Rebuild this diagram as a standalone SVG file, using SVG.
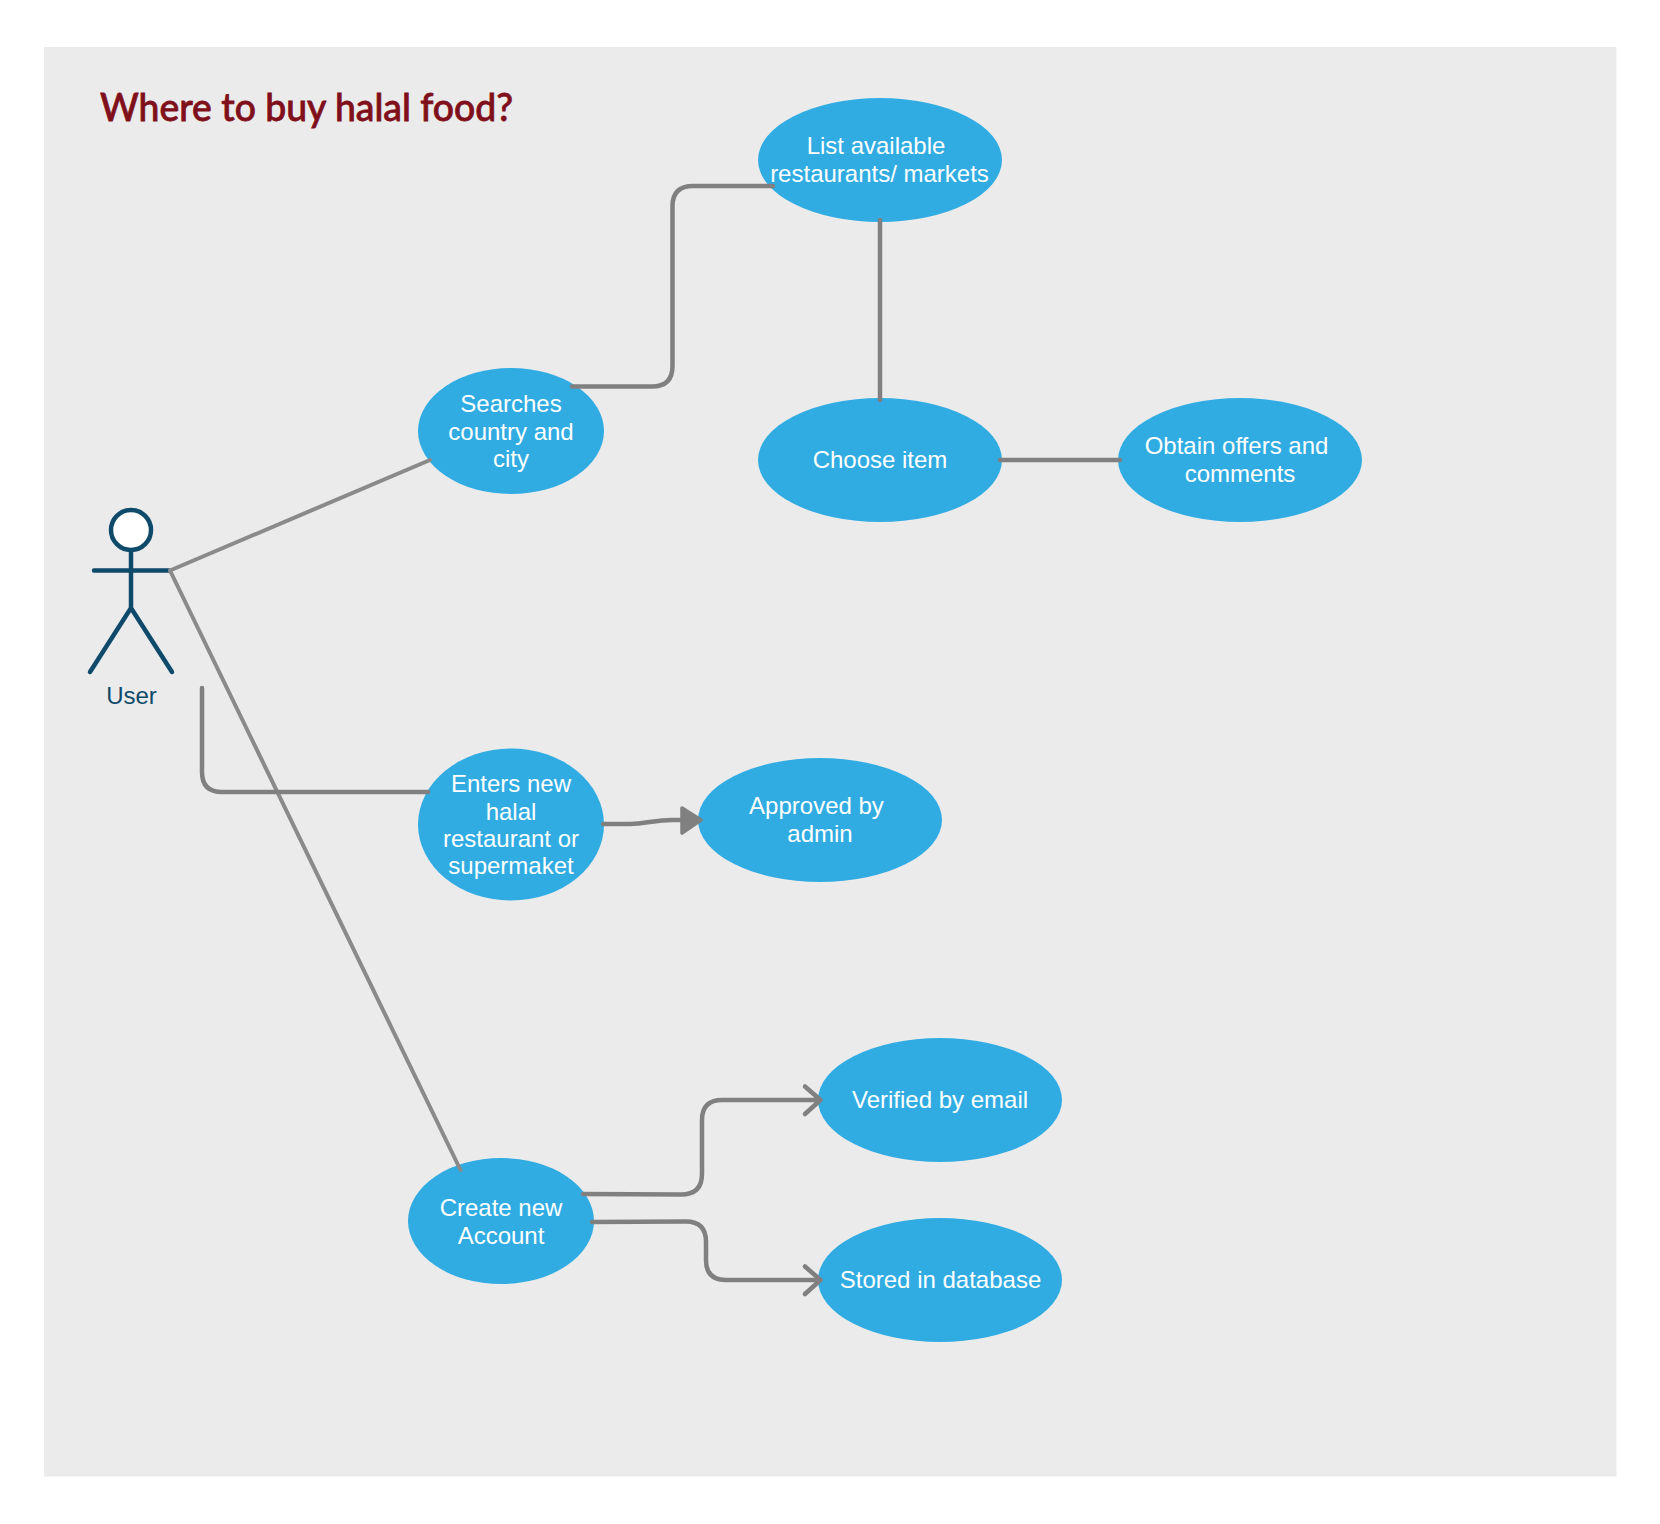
<svg xmlns="http://www.w3.org/2000/svg" width="1660" height="1524" viewBox="0 0 1660 1524">
<style>
.uc{fill:#30ace3}
.t{font-family:"Liberation Sans",Arial,sans-serif;font-size:24px;fill:#fff;text-anchor:middle}
.c{fill:none;stroke:#808080;stroke-width:4.500;stroke-linecap:round;stroke-linejoin:round}
.l{fill:none;stroke:#8a8a8a;stroke-width:4;stroke-linecap:round}
.a{fill:none;stroke:#0f4a6b;stroke-width:4.500;stroke-linecap:round;stroke-linejoin:round}
</style>
<rect width="1660" height="1524" fill="#fff"/>
<rect x="44" y="47" width="1572.500" height="1429.500" fill="#ebebeb"/>
<text id="title" x="100" y="121" font-family="Lato,'Noto Sans',sans-serif" font-size="39" font-weight="500" fill="#7f0f1a" stroke="#7f0f1a" stroke-width="0.800" textLength="413" lengthAdjust="spacingAndGlyphs">Where to buy halal food?</text>
<g id="nodes">
<g id="n-user">
<circle cx="131" cy="530" r="20" fill="#fff" stroke="#0f4a6b" stroke-width="4.500"/>
<path class="a" d="M94 570.500H169M131 551V608M131 608L90 672M131 608L172 672"/>
<text x="131.500" y="704" font-family="'Liberation Sans',Arial,sans-serif" font-size="24" fill="#0f4a6b" text-anchor="middle">User</text>
</g>
<g id="n-searches"><ellipse class="uc" cx="511" cy="431" rx="93" ry="63"/><text class="t"><tspan x="511" y="412">Searches</tspan><tspan x="511" y="440">country and</tspan><tspan x="511" y="467">city</tspan></text></g>
<g id="n-list"><ellipse class="uc" cx="880" cy="160" rx="122" ry="62"/><text class="t"><tspan x="876" y="154">List available</tspan><tspan x="879.500" y="181.500">restaurants/ markets</tspan></text></g>
<g id="n-choose"><ellipse class="uc" cx="880" cy="460" rx="122" ry="62"/><text class="t" x="880" y="467.500">Choose item</text></g>
<g id="n-obtain"><ellipse class="uc" cx="1240" cy="460" rx="122" ry="62"/><text class="t"><tspan x="1236.500" y="453.500">Obtain offers and</tspan><tspan x="1240" y="481.500">comments</tspan></text></g>
<g id="n-enters"><ellipse class="uc" cx="511" cy="824.500" rx="93" ry="76"/><text class="t"><tspan x="511" y="792">Enters new</tspan><tspan x="511" y="819.500">halal</tspan><tspan x="511" y="846.500">restaurant or</tspan><tspan x="511" y="873.500">supermaket</tspan></text></g>
<g id="n-approved"><ellipse class="uc" cx="820" cy="820" rx="122" ry="62"/><text class="t"><tspan x="816.500" y="814">Approved by</tspan><tspan x="820" y="842">admin</tspan></text></g>
<g id="n-verified"><ellipse class="uc" cx="940" cy="1100" rx="122" ry="62"/><text class="t" x="940" y="1108">Verified by email</text></g>
<g id="n-stored"><ellipse class="uc" cx="940" cy="1280" rx="122" ry="62"/><text class="t" x="940.500" y="1288">Stored in database</text></g>
<g id="n-create"><ellipse class="uc" cx="501" cy="1221" rx="93" ry="63"/><text class="t"><tspan x="501" y="1215.500">Create new</tspan><tspan x="501" y="1243.500">Account</tspan></text></g>
</g>
<g id="connectors">
<path class="l" d="M170 570.500L430 460"/>
<path class="l" d="M170 570.500L460.500 1170"/>
<path class="c" d="M572 386.500H652Q672.500 386.500 672.500 366V206Q672.500 186 693 186H773"/>
<path class="c" d="M880 220V400"/>
<path class="c" d="M1000 460H1120"/>
<path class="c" d="M202 688V772Q202 792 222 792H428"/>
<path class="c" d="M603 824H630C645 824 655 820 672 820H684"/>
<path d="M682 808L701 820L682 833Z" fill="#808080" stroke="#808080" stroke-width="3.500" stroke-linejoin="round"/>
<path class="c" d="M583 1194L681 1194.500Q702 1194.500 702 1174V1120Q702 1100 722 1100H820"/>
<path class="c" d="M805 1086.500L820.500 1100L805 1114"/>
<path class="c" d="M592 1222L686 1221.500Q706 1221.500 706 1242V1260Q706 1280 726 1280H820"/>
<path class="c" d="M805 1266.500L820.500 1280L805 1294"/>
</g>
</svg>
